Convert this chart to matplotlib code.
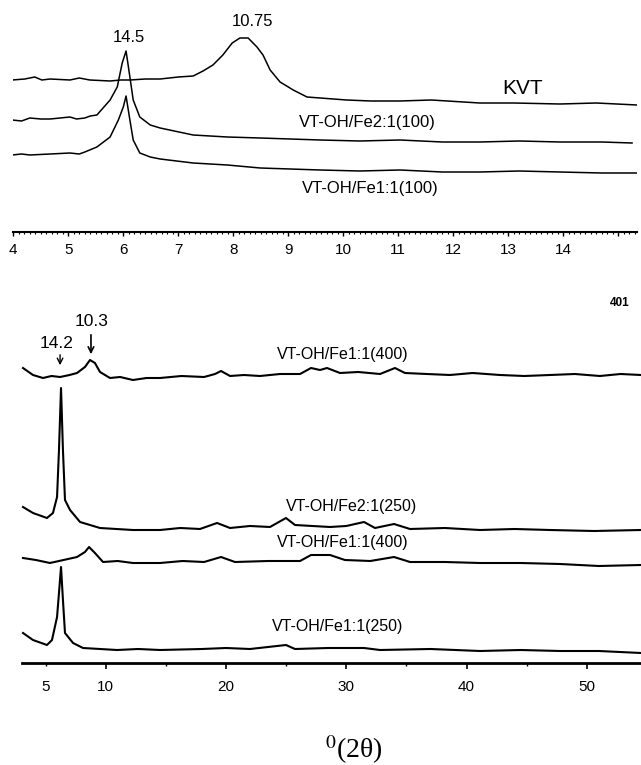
import matplotlib
matplotlib.use("Agg")
import matplotlib.pyplot as plt
from matplotlib.ticker import MultipleLocator, FixedLocator

plt.rcParams['font.family'] = ['Liberation Sans', 'DejaVu Sans']
plt.rcParams['mathtext.fontset'] = 'stix'

# top panel, low angle region (2 theta, arbitrary intensity)
kvt_x = [3.98, 4.21, 4.39, 4.52, 4.67, 5.03, 5.20, 5.39, 5.76, 5.95, 6.12, 6.40, 6.67, 7.00, 7.27,
         7.45, 7.63, 7.81, 7.98, 8.12, 8.27, 8.43, 8.54, 8.67, 8.85, 9.09, 9.34, 9.58, 10.06,
         10.50, 11.03, 11.60, 12.48, 13.10, 13.94, 14.60, 15.34]
kvt_y = [152, 153, 155, 152, 153, 152, 154, 152, 151, 152, 152, 153, 153, 155, 156,
         161, 167, 177, 189, 194, 194, 185, 177, 162, 150, 142, 135, 134, 132,
         131, 131, 132, 129, 129, 128, 129, 127]

fe21_100_x = [3.98, 4.15, 4.30, 4.50, 4.67, 5.03, 5.15, 5.30, 5.40, 5.52, 5.76, 5.89, 5.98, 6.05,
              6.12, 6.18, 6.30, 6.49, 6.67, 7.27, 7.89, 8.49, 9.58, 10.30, 11.03, 11.80, 12.48,
              13.20, 13.94, 14.70, 15.25]
fe21_100_y = [112, 111, 114, 113, 113, 115, 113, 114, 116, 117, 132, 145, 169, 181,
              155, 132, 115, 107, 104, 97, 95, 94, 92, 91, 92, 90, 90, 91, 90, 90, 89]

fe11_100_x = [3.98, 4.15, 4.30, 4.67, 5.03, 5.20, 5.30, 5.52, 5.76, 5.91, 6.00, 6.05, 6.12, 6.18,
              6.30, 6.49, 6.67, 7.27, 7.89, 8.49, 9.58, 10.30, 11.03, 11.80, 12.48, 13.20, 13.94,
              14.70, 15.34]
fe11_100_y = [77, 78, 77, 78, 79, 78, 80, 85, 95, 112, 125, 136, 112, 92,
              79, 75, 73, 69, 67, 64, 62, 61, 62, 60, 60, 61, 60, 59, 59]

# bottom panel, full range
fe11_400a_x = [3.13, 3.96, 4.79, 5.50, 6.21, 7.00, 7.62, 8.28, 8.70, 9.11, 9.53, 10.36, 11.20,
               12.27, 13.40, 14.52, 16.30, 18.18, 19.09, 19.59, 20.34, 21.50, 22.83, 24.50,
               26.16, 27.07, 27.82, 28.40, 29.48, 31.00, 32.81, 34.05, 34.88, 36.70, 38.62,
               40.50, 42.78, 44.80, 46.94, 49.00, 51.09, 52.80, 54.5]
fe11_400a_y = [295, 288, 285, 287, 286, 288, 290, 296, 303, 300, 291, 285, 286,
               283, 285, 285, 287, 286, 289, 292, 287, 288, 287, 289,
               289, 295, 293, 295, 290, 291, 289, 295, 290, 289, 288,
               290, 288, 287, 288, 289, 287, 289, 288]

fe21_250_x = [3.13, 3.96, 5.12, 5.62, 5.96, 6.12, 6.29, 6.45, 6.62, 7.04, 7.87, 9.53, 10.90,
              12.27, 14.52, 16.20, 17.84, 19.26, 20.34, 22.00, 23.66, 24.99, 25.74, 27.20,
              28.65, 30.00, 31.48, 32.39, 33.97, 35.30, 38.20, 41.12, 44.00, 46.94, 50.60, 54.5]
fe21_250_y = [156, 150, 145, 150, 166, 213, 275, 213, 163, 153, 141, 135, 134,
              133, 133, 135, 134, 140, 135, 137, 136, 145, 138, 137,
              136, 137, 141, 135, 139, 134, 135, 133, 134, 133, 132, 133]

fe11_400b_x = [3.13, 4.20, 5.37, 6.50, 7.62, 8.28, 8.62, 9.11, 9.78, 11.00, 12.27, 14.52, 16.40,
               18.18, 19.59, 20.75, 23.50, 26.16, 27.07, 28.65, 29.89, 32.00, 33.97, 35.30,
               38.20, 41.12, 44.50, 47.77, 51.00, 54.5]
fe11_400b_y = [105, 103, 100, 103, 106, 111, 116, 110, 101, 102, 100, 100, 102,
               101, 106, 101, 102, 102, 108, 108, 103, 102, 106, 101,
               101, 100, 100, 99, 97, 98]

fe11_250_x = [3.13, 3.96, 5.12, 5.54, 5.96, 6.12, 6.29, 6.45, 6.62, 7.29, 8.12, 10.94, 12.70,
              14.52, 18.00, 20.00, 22.00, 24.99, 25.74, 28.50, 31.48, 32.81, 37.00, 41.12,
              44.50, 47.77, 51.00, 54.5]
fe11_250_y = [30, 23, 18, 23, 46, 70, 96, 63, 30, 20, 15, 13, 14,
              13, 14, 15, 14, 18, 14, 15, 15, 13, 14, 12,
              13, 12, 12, 10]

top_ticks = [4, 5, 6, 7, 8, 9, 10, 11, 12, 13, 14, 15]
top_labels = ['4', '5', '6', '7', '8', '9', '10', '11', '12', '13', '14', '']
bottom_major = [10, 20, 30, 40, 50]
bottom_minor = [5, 15, 25, 35, 45]
bottom_minor_labels = ['5', '', '', '', '']

W, H = 641, 765
fig = plt.figure(figsize=(W / 100, H / 100), dpi=100)

# top axes: spine at y=232 px, 4 -> 13.3 px, 55 px per degree
ax1 = fig.add_axes([13.3 / W, (H - 232) / H, (637 - 13.3) / W, 232 / H])
ax1.plot(kvt_x, kvt_y, color='black', lw=1.1)
ax1.plot(fe21_100_x, fe21_100_y, color='black', lw=1.1)
ax1.plot(fe11_100_x, fe11_100_y, color='black', lw=1.1)
ax1.set_xlim(4, 15.34)
ax1.set_ylim(0, 232)

ax1.text(6.10, 195, '14.5', ha='center', va='center', fontsize=12)
ax1.text(8.34, 210, '10.75', ha='center', va='center', fontsize=12)
ax1.text(13.26, 144, 'KVT', ha='center', va='center', fontsize=15)
ax1.text(10.43, 110, 'VT-OH/Fe2:1(100)', ha='center', va='center', fontsize=12)
ax1.text(10.49, 44, 'VT-OH/Fe1:1(100)', ha='center', va='center', fontsize=12)

ax1.xaxis.set_major_locator(FixedLocator(top_ticks))
ax1.set_xticklabels(top_labels)
ax1.xaxis.set_minor_locator(MultipleLocator(0.1))
ax1.tick_params(axis='x', which='major', length=3, width=1, pad=5, labelsize=11)
ax1.tick_params(axis='x', which='minor', length=1.2, width=0.8)
ax1.set_yticks([])
for side in ['left', 'right', 'top']:
    ax1.spines[side].set_visible(False)
ax1.spines['bottom'].set_linewidth(1.5)

# bottom axes: spine at y=663 px, 5 -> 45.5 px, 12.03 px per degree
x0 = 5 - 45.5 / 12.03
ax2 = fig.add_axes([0, (H - 663) / H, 1, 383 / H])
ax2.plot(fe11_400a_x, fe11_400a_y, color='black', lw=1.5)
ax2.plot(fe21_250_x, fe21_250_y, color='black', lw=1.5)
ax2.plot(fe11_400b_x, fe11_400b_y, color='black', lw=1.5)
ax2.plot(fe11_250_x, fe11_250_y, color='black', lw=1.5)
ax2.set_xlim(x0, x0 + W / 12.03)
ax2.set_ylim(0, 383)
ax2.spines['bottom'].set_bounds(3.05, x0 + W / 12.03)

ax2.text(29.73, 308, 'VT-OH/Fe1:1(400)', ha='center', va='center', fontsize=11.5)
ax2.text(30.48, 157, 'VT-OH/Fe2:1(250)', ha='center', va='center', fontsize=11.5)
ax2.text(29.73, 120, 'VT-OH/Fe1:1(400)', ha='center', va='center', fontsize=11.5)
ax2.text(29.31, 36, 'VT-OH/Fe1:1(250)', ha='center', va='center', fontsize=11.5)
ax2.text(5.96, 320, '14.2', ha='center', va='center', fontsize=12.5)
ax2.text(8.87, 341, '10.3', ha='center', va='center', fontsize=12.5)
ax2.annotate('', xy=(6.21, 295), xytext=(6.21, 311),
             arrowprops=dict(arrowstyle='->', color='black', lw=1))
ax2.annotate('', xy=(8.78, 306), xytext=(8.78, 331),
             arrowprops=dict(arrowstyle='->', color='black', lw=1.2))
ax2.text(52.74, 360, '401', ha='center', va='center', fontsize=8.5, fontweight='bold')

ax2.xaxis.set_major_locator(FixedLocator(bottom_major))
ax2.xaxis.set_minor_locator(FixedLocator(bottom_minor))
ax2.set_xticklabels([str(v) for v in bottom_major])
ax2.set_xticklabels(bottom_minor_labels, minor=True)
ax2.tick_params(axis='x', which='major', length=4, width=1.2, pad=8, labelsize=11)
ax2.tick_params(axis='x', which='minor', length=2.5, width=1, pad=9.5, labelsize=11)
ax2.set_yticks([])
for side in ['left', 'right', 'top']:
    ax2.spines[side].set_visible(False)
ax2.spines['bottom'].set_linewidth(2)

fig.text(354 / W, 1 - 750 / H, r'$^{0}$(2θ)', ha='center', va='center', fontsize=20,
         family=['Liberation Serif', 'DejaVu Serif'])

fig.savefig('out.png', dpi=100)
